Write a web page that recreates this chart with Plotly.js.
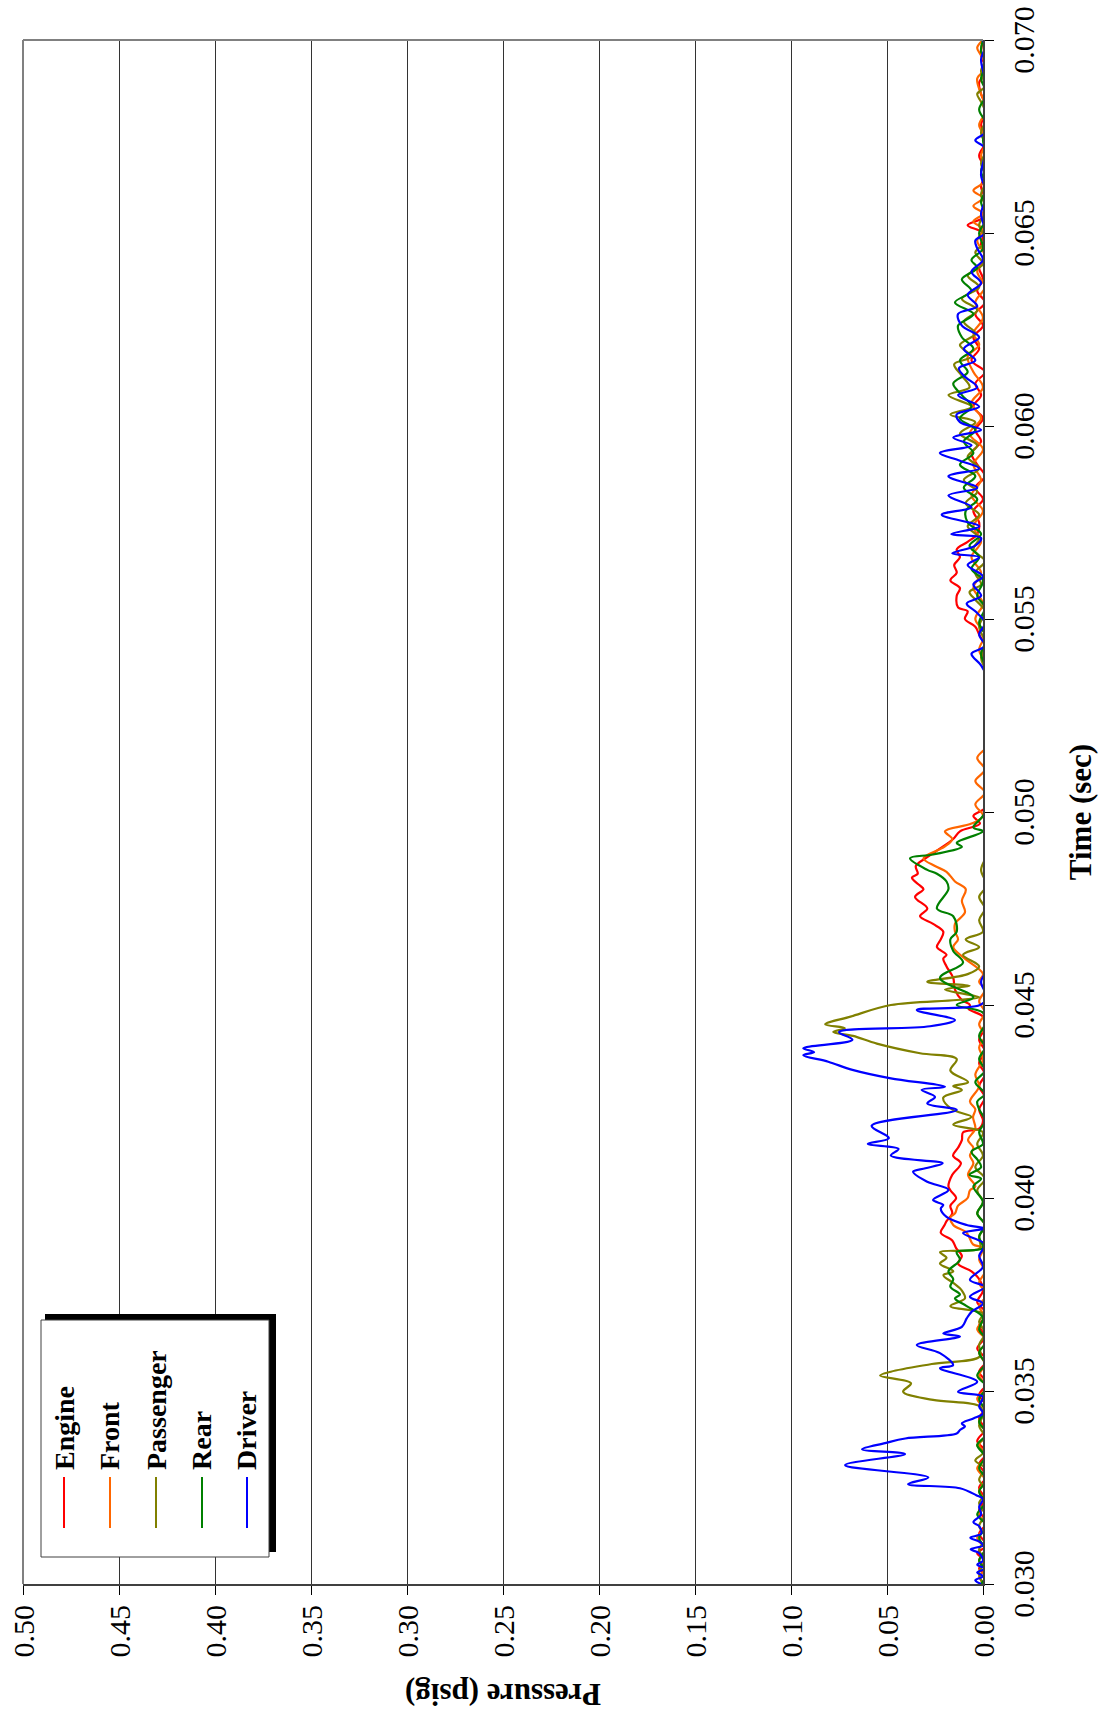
<!DOCTYPE html>
<html>
<head>
<meta charset="utf-8">
<script src="https://cdn.plot.ly/plotly-3.0.1.min.js"></script>
<style>
html,body{margin:0;padding:0;background:#fff;overflow:hidden;width:1105px;height:1712px}
#wrap{position:absolute;left:0;top:0;width:1105px;height:1712px;overflow:hidden;background:#fff}
#plot{position:absolute;left:0;top:0;width:1712px;height:1105px;transform-origin:0 0;transform:translate(0px,1712px) rotate(-90deg)}
</style>
</head>
<body>
<div id="wrap"><div id="plot"></div></div>
<script>
// ---- data: [time (sec), pressure (psig)] ----
const seriesNames = ['Engine','Front','Passenger','Rear','Driver'];
const seriesColors = ['#FF0000','#FF6600','#808000','#008000','#0000FF'];

const engine = [[0.0300,0.001],[0.0302,-0.002],[0.0304,0.002],[0.0306,-0.001],[0.0308,0.003],[0.0310,-0.002],[0.0313,0.002],[0.0316,-0.002],[0.0319,0.002],[0.0322,-0.001],[0.0325,0.002],[0.0328,-0.002],[0.0331,0.002],[0.0334,-0.002],[0.0337,0.003],[0.0340,-0.001],[0.0343,0.002],[0.0346,-0.002],[0.0349,0.002],[0.0352,-0.002],[0.0355,0.002],[0.0358,-0.002],[0.0361,0.003],[0.0364,-0.001],[0.0367,0.002],[0.0370,-0.002],[0.0373,0.003],[0.0376,0.000],[0.0379,0.002],[0.0381,0.006],[0.0383,0.013],[0.0385,0.011],[0.0387,0.014],[0.0389,0.016],[0.0391,0.022],[0.0393,0.020],[0.0394,0.019],[0.0396,0.016],[0.0398,0.017],[0.0400,0.014],[0.0402,0.017],[0.0403,0.018],[0.0406,0.016],[0.0409,0.0115],[0.0411,0.0156],[0.0413,0.013],[0.0415,0.011],[0.0417,0.0104],[0.0418,0.002],[0.0420,0.000],[0.0423,0.002],[0.0426,-0.001],[0.0429,0.002],[0.0432,-0.001],[0.0435,0.002],[0.0438,-0.001],[0.0441,0.002],[0.0444,-0.001],[0.0447,0.000],[0.0449,0.0075],[0.0450,0.0068],[0.04513,0.011],[0.0454,0.0146],[0.0457,0.0155],[0.0460,0.019],[0.0462,0.0207],[0.0463,0.019],[0.0465,0.024],[0.0467,0.022],[0.0469,0.0207],[0.0471,0.026],[0.0473,0.0328],[0.0475,0.029],[0.0478,0.0354],[0.0480,0.031],[0.0481,0.033],[0.0483,0.037],[0.0484,0.034],[0.0486,0.035],[0.0488,0.030],[0.0490,0.024],[0.0493,0.0155],[0.0495,0.012],[0.0497,0.0016],[0.0499,0.005],[0.0501,-0.001],[0.0505,-0.003],[0.0510,-0.004],[0.0515,-0.005],[0.0520,-0.004],[0.0525,-0.005],[0.0530,-0.004],[0.0535,-0.003],[0.0540,0.000],[0.0543,-0.001],[0.0546,0.002],[0.0548,0.004],[0.0550,0.0094],[0.0552,0.008],[0.0553,0.013],[0.0556,0.0137],[0.0558,0.012],[0.0560,0.017],[0.0562,0.0137],[0.0564,0.015],[0.0566,0.012],[0.0568,0.0137],[0.0570,0.008],[0.0572,0.003],[0.0575,0.002],[0.0578,0.005],[0.0581,0.000],[0.0584,0.004],[0.0587,-0.001],[0.0590,0.003],[0.0593,0.006],[0.0596,0.001],[0.0599,0.004],[0.0602,0.000],[0.0605,0.005],[0.0608,0.001],[0.0611,0.004],[0.0614,-0.001],[0.0617,0.006],[0.0620,0.002],[0.0623,0.005],[0.0626,0.000],[0.0629,0.004],[0.0632,-0.001],[0.0635,0.003],[0.0638,0.000],[0.0641,0.002],[0.0644,-0.002],[0.0647,0.001],[0.0650,0.000],[0.0652,0.008],[0.0654,0.000],[0.0658,-0.002],[0.0662,0.001],[0.0666,-0.002],[0.0670,0.002],[0.0674,-0.002],[0.0678,0.001],[0.0682,-0.002],[0.0686,0.001],[0.0689,0.002],[0.0692,-0.002],[0.0696,0.001],[0.0700,0.000]];

const front = [[0.0300,-0.001],[0.0302,0.002],[0.0304,-0.002],[0.0306,0.002],[0.0309,-0.001],[0.0312,0.003],[0.0315,-0.002],[0.0318,0.002],[0.0321,-0.002],[0.0324,0.002],[0.0327,-0.001],[0.0330,0.003],[0.0333,-0.002],[0.0336,0.002],[0.0339,-0.002],[0.0342,0.002],[0.0345,-0.001],[0.0348,0.003],[0.0351,-0.002],[0.0354,0.002],[0.0357,-0.001],[0.0360,0.002],[0.0363,-0.002],[0.0366,0.003],[0.0369,-0.001],[0.0372,0.002],[0.0375,-0.002],[0.0378,0.002],[0.0381,-0.001],[0.0384,0.002],[0.0387,0.000],[0.0388,0.0052],[0.0391,0.0085],[0.0393,0.0155],[0.0395,0.017],[0.0396,0.0146],[0.0398,0.013],[0.0400,0.008],[0.0402,0.0068],[0.0403,0.004],[0.0406,0.0078],[0.0409,0.005],[0.0411,0.0068],[0.0413,0.005],[0.0415,0.0078],[0.0418,0.004],[0.0421,0.0052],[0.0423,0.004],[0.0425,0.0068],[0.0429,0.002],[0.0432,0.004],[0.0436,0.000],[0.0439,0.002],[0.0442,-0.001],[0.0445,0.002],[0.0448,-0.001],[0.0451,0.002],[0.0454,-0.001],[0.0456,0.002],[0.0458,0.000],[0.0462,0.0094],[0.0465,0.0155],[0.0467,0.013],[0.0469,0.0146],[0.0471,0.0146],[0.0474,0.0094],[0.0477,0.011],[0.0480,0.009],[0.0482,0.0146],[0.04845,0.019],[0.0486,0.025],[0.0488,0.031],[0.0491,0.020],[0.0493,0.016],[0.0495,0.0198],[0.0497,0.006],[0.0499,0.000],[0.0502,0.004],[0.0505,-0.001],[0.0508,0.004],[0.0511,-0.001],[0.0514,0.003],[0.0517,-0.002],[0.0522,-0.004],[0.0530,-0.004],[0.0538,-0.002],[0.0542,0.002],[0.0546,-0.001],[0.0550,0.004],[0.0554,0.000],[0.0558,0.005],[0.0562,0.001],[0.0566,0.006],[0.0570,0.001],[0.0574,0.005],[0.0578,0.000],[0.0582,0.006],[0.0586,0.001],[0.0590,0.005],[0.0594,0.000],[0.0598,0.007],[0.0602,0.001],[0.0606,0.006],[0.0610,0.000],[0.0614,0.005],[0.0618,0.008],[0.0621,0.002],[0.0624,0.005],[0.0628,0.000],[0.0632,0.004],[0.0636,-0.001],[0.0640,0.003],[0.0644,-0.001],[0.0648,0.003],[0.0651,0.000],[0.0653,0.005],[0.0655,0.000],[0.0657,0.005],[0.0659,0.000],[0.0661,0.005],[0.0663,0.000],[0.0666,-0.002],[0.0670,0.001],[0.0674,-0.002],[0.0678,0.002],[0.0682,-0.002],[0.0686,0.001],[0.0690,0.003],[0.0693,-0.002],[0.0696,0.001],[0.0698,0.003],[0.0700,0.000]];

const passenger = [[0.0300,0.000],[0.0303,0.002],[0.0306,-0.001],[0.0309,0.002],[0.0312,-0.002],[0.0315,0.002],[0.0318,-0.001],[0.0321,0.002],[0.0324,-0.002],[0.0327,0.002],[0.0330,-0.001],[0.0332,0.004],[0.0334,0.000],[0.0336,0.003],[0.0338,-0.001],[0.0341,0.002],[0.0344,0.000],[0.0346,0.0016],[0.03477,0.026],[0.03498,0.0416],[0.0352,0.0375],[0.0354,0.0536],[0.0355,0.048],[0.0357,0.0267],[0.0359,0.0016],[0.0362,0.002],[0.0365,-0.001],[0.0368,0.002],[0.0370,0.000],[0.0372,0.017],[0.0374,0.0094],[0.0376,0.011],[0.0378,0.0155],[0.0380,0.0206],[0.0381,0.0155],[0.0383,0.0224],[0.03845,0.019],[0.0386,0.0224],[0.0387,0.0016],[0.0390,0.002],[0.0393,-0.001],[0.0396,0.003],[0.0399,0.000],[0.0402,0.003],[0.0405,-0.001],[0.0408,0.004],[0.0411,0.000],[0.0414,0.003],[0.0417,0.000],[0.0419,0.0155],[0.0421,0.006],[0.0423,0.0163],[0.0426,0.0207],[0.0428,0.011],[0.0429,0.0155],[0.0430,0.0078],[0.0433,0.017],[0.0436,0.0137],[0.04375,0.0328],[0.0440,0.0553],[0.0442,0.0677],[0.0443,0.078],[0.0444,0.072],[0.0445,0.0822],[0.0447,0.069],[0.0450,0.048],[0.04513,0.0137],[0.0452,0.002],[0.0454,0.0198],[0.0455,0.007],[0.0456,0.029],[0.0458,0.008],[0.0460,0.002],[0.0463,0.0104],[0.0465,0.002],[0.0467,0.009],[0.0469,0.000],[0.0472,0.002],[0.0475,-0.001],[0.0478,0.002],[0.0481,-0.002],[0.0485,0.001],[0.0490,-0.003],[0.0500,-0.004],[0.0510,-0.005],[0.0520,-0.005],[0.0530,-0.004],[0.0537,-0.001],[0.0540,0.001],[0.0544,-0.001],[0.0548,0.002],[0.0552,-0.001],[0.0555,0.004],[0.0557,0.007],[0.0559,0.001],[0.0562,0.004],[0.0565,-0.001],[0.0568,0.005],[0.0571,0.002],[0.0574,0.008],[0.0577,0.002],[0.0580,0.009],[0.0583,0.003],[0.0586,0.010],[0.0589,0.002],[0.0592,0.008],[0.0595,0.003],[0.0598,0.012],[0.0601,0.004],[0.0603,0.017],[0.0605,0.006],[0.0608,0.018],[0.0610,0.007],[0.0613,0.011],[0.0616,0.015],[0.0618,0.006],[0.0621,0.012],[0.0624,0.004],[0.0627,0.010],[0.0630,0.003],[0.0633,0.011],[0.0636,0.002],[0.0639,0.008],[0.0642,0.000],[0.0645,0.004],[0.0648,-0.002],[0.0652,0.002],[0.0656,-0.002],[0.0660,0.001],[0.0664,-0.002],[0.0668,0.001],[0.0672,-0.002],[0.0676,0.001],[0.0680,-0.002],[0.0684,0.001],[0.0686,0.003],[0.0688,-0.001],[0.0692,0.001],[0.0696,-0.002],[0.0700,0.000]];

const rear = [[0.0300,0.001],[0.0303,-0.002],[0.0306,0.002],[0.0309,-0.001],[0.0312,0.002],[0.0315,-0.002],[0.0318,0.003],[0.0321,-0.001],[0.0324,0.002],[0.0327,-0.002],[0.0330,0.002],[0.0333,-0.001],[0.0336,0.003],[0.0339,-0.002],[0.0342,0.002],[0.0345,-0.001],[0.0348,0.002],[0.0351,-0.002],[0.0354,0.003],[0.0357,-0.001],[0.0360,0.002],[0.0363,-0.002],[0.0366,0.002],[0.0369,0.000],[0.0372,0.0085],[0.0374,0.0146],[0.0375,0.012],[0.0377,0.017],[0.0379,0.0155],[0.0381,0.018],[0.0384,0.012],[0.0386,0.0137],[0.0387,0.000],[0.0390,0.002],[0.0393,-0.001],[0.0396,0.003],[0.0399,0.000],[0.0403,0.005],[0.0405,0.001],[0.0406,0.007],[0.0408,0.001],[0.0410,0.003],[0.0412,0.006],[0.0414,0.000],[0.0417,0.002],[0.0420,-0.001],[0.0423,0.002],[0.0425,0.003],[0.0427,-0.001],[0.0430,0.004],[0.0433,-0.001],[0.0436,0.002],[0.0439,-0.001],[0.0442,0.002],[0.0445,-0.001],[0.0448,0.000],[0.0450,0.0137],[0.0452,0.005],[0.0457,0.0224],[0.0461,0.0104],[0.0464,0.0155],[0.0467,0.017],[0.0469,0.0137],[0.0473,0.0155],[0.0475,0.024],[0.0480,0.018],[0.0482,0.019],[0.0484,0.024],[0.0485,0.029],[0.0488,0.038],[0.0489,0.026],[0.0491,0.011],[0.0492,0.0137],[0.0495,0.000],[0.0496,0.005],[0.0499,0.000],[0.0503,-0.003],[0.0510,-0.005],[0.0520,-0.005],[0.0530,-0.004],[0.0537,-0.002],[0.0541,0.001],[0.0545,-0.002],[0.0549,0.002],[0.0553,-0.001],[0.0556,0.003],[0.0560,0.000],[0.0563,0.006],[0.0566,0.002],[0.0569,0.007],[0.0572,0.001],[0.0575,0.008],[0.0578,0.009],[0.0581,0.003],[0.0584,0.010],[0.0587,0.004],[0.0590,0.012],[0.0593,0.005],[0.0596,0.010],[0.0599,0.004],[0.0602,0.012],[0.0605,0.006],[0.0608,0.011],[0.0611,0.0155],[0.0614,0.008],[0.0617,0.012],[0.0620,0.005],[0.0623,0.011],[0.0626,0.013],[0.0629,0.005],[0.0632,0.0146],[0.0635,0.006],[0.0638,0.011],[0.0641,0.003],[0.0643,0.006],[0.0646,0.000],[0.0650,0.002],[0.0654,-0.002],[0.0658,0.001],[0.0662,-0.002],[0.0666,0.001],[0.0670,-0.002],[0.0674,0.000],[0.0678,-0.002],[0.0682,0.002],[0.0686,-0.002],[0.0690,0.001],[0.0694,-0.002],[0.0697,0.001],[0.0700,0.000]];

const driver = [[0.0300,0.001],[0.0301,0.004],[0.0302,0.000],[0.0303,0.003],[0.0304,-0.001],[0.0305,0.003],[0.0306,0.000],[0.0308,0.002],[0.0309,0.0064],[0.0310,0.000],[0.0311,0.002],[0.0312,0.0066],[0.0313,0.001],[0.0315,0.002],[0.0316,0.005],[0.0318,0.001],[0.0320,0.002],[0.0322,0.000],[0.0323,0.0035],[0.03248,0.012],[0.03259,0.039],[0.03276,0.0285],[0.03308,0.0718],[0.03337,0.0406],[0.03349,0.063],[0.03365,0.051],[0.03377,0.0405],[0.0339,0.0137],[0.03399,0.012],[0.03408,0.0094],[0.03416,0.011],[0.03429,0.005],[0.03442,0.000],[0.0346,0.002],[0.03485,0.000],[0.03498,0.013],[0.03524,0.003],[0.03559,0.0224],[0.03567,0.0156],[0.03598,0.0224],[0.03619,0.0345],[0.03641,0.012],[0.03649,0.0207],[0.03666,0.011],[0.03688,0.0085],[0.03705,0.006],[0.03727,0.000],[0.03744,0.0068],[0.0377,-0.001],[0.03788,0.0068],[0.03822,0.000],[0.0385,0.002],[0.0388,-0.001],[0.03909,0.0104],[0.03921,-0.001],[0.0393,0.0085],[0.03951,0.019],[0.03973,0.022],[0.03982,0.0207],[0.03995,0.026],[0.04021,0.018],[0.04042,0.029],[0.04068,0.0364],[0.04077,0.030],[0.0409,0.021],[0.0411,0.048],[0.04127,0.044],[0.0414,0.060],[0.04155,0.049],[0.04187,0.058],[0.04228,0.0137],[0.04245,0.029],[0.04262,0.025],[0.0428,0.032],[0.04288,0.0198],[0.0431,0.048],[0.04332,0.068],[0.04353,0.0806],[0.0437,0.0936],[0.04378,0.088],[0.04388,0.0936],[0.0441,0.068],[0.0443,0.075],[0.04445,0.0276],[0.04461,0.0146],[0.04487,0.0345],[0.0450,0.0016],[0.0452,-0.002],[0.0456,0.001],[0.0460,-0.003],[0.0470,-0.004],[0.0480,-0.005],[0.0490,-0.005],[0.0500,-0.006],[0.0510,-0.006],[0.0520,-0.005],[0.0530,-0.004],[0.0535,-0.002],[0.0538,0.001],[0.0541,0.006],[0.0543,-0.001],[0.0546,0.002],[0.0549,-0.001],[0.0552,0.004],[0.0554,0.0085],[0.0556,0.001],[0.0559,0.005],[0.0561,0.000],[0.0564,0.008],[0.0566,0.002],[0.0567,0.016],[0.0569,0.004],[0.0571,0.001],[0.0572,0.0165],[0.0574,0.002],[0.0577,0.0215],[0.0579,0.006],[0.0582,0.018],[0.0584,0.003],[0.0587,0.018],[0.0589,0.002],[0.0591,0.012],[0.0593,0.0225],[0.0595,0.006],[0.0597,0.0155],[0.0599,0.001],[0.0601,0.012],[0.0603,0.0137],[0.0605,0.002],[0.0608,0.013],[0.0610,0.003],[0.0613,0.010],[0.0615,0.0125],[0.0617,0.004],[0.0620,0.010],[0.0623,0.002],[0.0626,0.011],[0.0629,0.013],[0.0631,0.003],[0.0634,0.008],[0.0637,0.001],[0.0640,0.006],[0.0643,0.000],[0.0646,0.003],[0.0648,0.004],[0.0650,-0.001],[0.0655,0.001],[0.0660,-0.002],[0.0665,0.001],[0.0672,-0.001],[0.0674,0.004],[0.0676,-0.001],[0.0680,-0.002],[0.0685,-0.002],[0.0690,-0.001],[0.0695,0.001],[0.0698,-0.001],[0.0700,0.000]];

const timeTicks = [0.030,0.035,0.040,0.045,0.050,0.055,0.060,0.065,0.070];
const timeTickText = ['0.030','0.035','0.040','0.045','0.050','0.055','0.060','0.065','0.070'];
const pressureTicks = [0,0.05,0.10,0.15,0.20,0.25,0.30,0.35,0.40,0.45,0.50];
const pressureTickText = ['0.00','0.05','0.10','0.15','0.20','0.25','0.30','0.35','0.40','0.45','0.50'];

// ---- drawing (landscape chart, rotated a quarter turn on the page) ----
const SERIF = '"Liberation Serif", "Times New Roman", serif';
const allSeries = [engine, front, passenger, rear, driver];
const traces = allSeries.map((s, i) => ({
  type: 'scatter', mode: 'lines', name: seriesNames[i],
  x: s.map(d => d[0]), y: s.map(d => d[1]),
  line: {color: seriesColors[i], width: 2.2, shape: 'spline', smoothing: 1},
  showlegend: false, hoverinfo: 'skip'
}));

const W = 1712, H = 1105;
const M = {l: 128, r: 40, t: 23, b: 122};
const PW = W - M.l - M.r, PH = H - M.t - M.b;
const px = v => (v - M.l) / PW;       // page px -> paper x
const py = v => (H - M.b - v) / PH;   // page px -> paper y

const shapes = [
  // gray plot border (top and right)
  {type:'line', xref:'paper', yref:'paper', x0:0, x1:1, y0:1, y1:1, line:{color:'#808080', width:2}},
  {type:'line', xref:'paper', yref:'paper', x0:1, x1:1, y0:0, y1:1, line:{color:'#808080', width:2}},
  // legend shadow and box
  {type:'rect', xref:'paper', yref:'paper', x0:px(160), x1:px(398), y0:py(45), y1:py(276), fillcolor:'#000', line:{width:0}},
  {type:'rect', xref:'paper', yref:'paper', x0:px(155), x1:px(392), y0:py(41), y1:py(269), fillcolor:'#fff', line:{color:'#404040', width:1}}
];
const annotations = [];
const legendY = [64, 110, 156, 202, 247];
seriesNames.forEach((n, i) => {
  shapes.push({type:'line', xref:'paper', yref:'paper', x0:px(184), x1:px(235), y0:py(legendY[i]), y1:py(legendY[i]), line:{color:seriesColors[i], width:2}});
  annotations.push({xref:'paper', yref:'paper', x:px(240), y:py(legendY[i]), xanchor:'left', yanchor:'middle', showarrow:false,
    text:n, font:{family:SERIF, size:28, color:'#000', weight:700}});
});

const layout = {
  width: W, height: H,
  margin: {l:M.l, r:M.r, t:M.t, b:M.b, pad:0},
  paper_bgcolor:'#fff', plot_bgcolor:'#fff',
  font: {family:SERIF, size:30, color:'#000'},
  showlegend:false,
  xaxis: {
    range:[0.030, 0.070], tickmode:'array', tickvals:timeTicks, ticktext:timeTickText,
    ticks:'outside', ticklen:9, tickwidth:1, tickcolor:'#000',
    showline:true, linecolor:'#404040', linewidth:2, showgrid:false, zeroline:false,
    tickfont:{family:SERIF, size:30, color:'#000'}, ticklabelstandoff:4,
    title:{text:'Time (sec)', font:{family:SERIF, size:31, color:'#000', weight:700}, standoff:30}
  },
  yaxis: {
    range:[0, 0.5], tickmode:'array', tickvals:pressureTicks, ticktext:pressureTickText,
    ticks:'outside', ticklen:9, tickwidth:1, tickcolor:'#000',
    showline:true, linecolor:'#404040', linewidth:2, showgrid:true, gridcolor:'#333333', gridwidth:1, zeroline:false,
    tickfont:{family:SERIF, size:30, color:'#000'}, ticklabelstandoff:4,
    title:{text:'Pressure (psig)', font:{family:SERIF, size:31, color:'#000', weight:700}, standoff:18}
  },
  shapes: shapes,
  annotations: annotations
};

Plotly.newPlot('plot', traces, layout, {displayModeBar:false, staticPlot:true});
</script>
</body>
</html>
